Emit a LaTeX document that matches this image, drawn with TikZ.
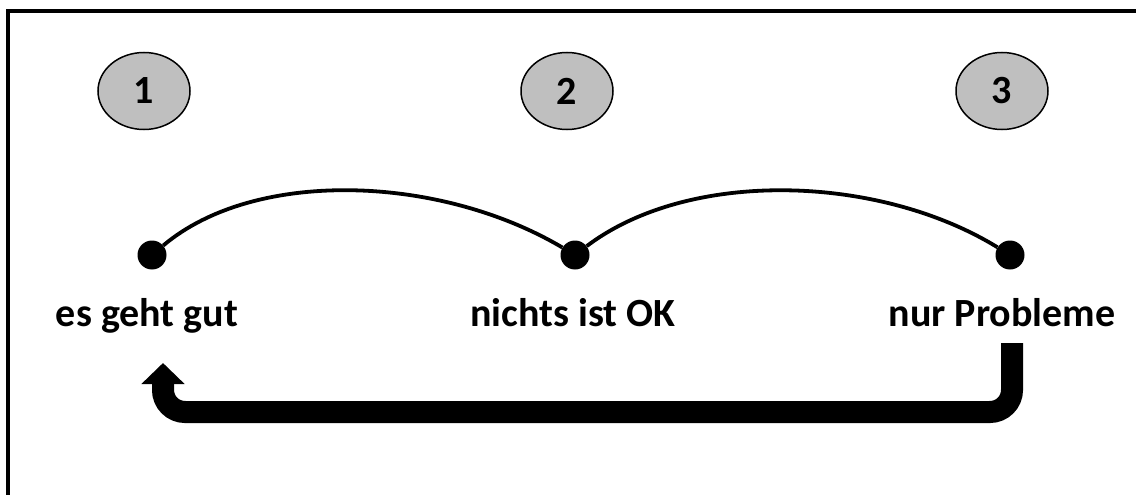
\documentclass[tikz,border=0pt]{standalone}
\usepackage{fontspec}
\setmainfont{Carlito}
\usetikzlibrary{arrows.meta}
\tikzset{
  numoval/.style={ellipse, draw=black, line width=1.5pt, fill=black!25, minimum width=92pt, minimum height=77pt, inner sep=0pt, font=\fontsize{40}{42}\selectfont\bfseries},
  dot/.style={circle, fill=black, minimum size=29pt, inner sep=0pt},
  lbl/.style={anchor=base, inner sep=0pt, font=\fontsize{40}{42}\selectfont\bfseries},
  arc/.style={line width=3.8pt},
  back/.style={line width=22pt, rounded corners=22pt, -{Triangle[width=42pt,length=21pt]}},
  frame/.style={line width=3.6pt}
}
\usetikzlibrary{shapes.geometric}
\begin{document}
\begin{tikzpicture}[x=1pt,y=-1pt]
\useasboundingbox (0,0) rectangle (1136,495);
\draw[frame] (8,497) -- (8,11) -- (1138,11);
\node[numoval] (n1) at (144,91) {1};
\node[numoval] (n2) at (567,91) {2};
\node[numoval] (n3) at (1002,91) {3};
\node[dot] (d1) at (152,255) {};
\node[dot] (d2) at (575,255) {};
\node[dot] (d3) at (1010,255) {};
\draw[arc] (d1) .. controls (255,168) and (440,175) .. (d2);
\draw[arc] (d2) .. controls (690,168) and (880,175) .. (d3);
\node[lbl] (l1) at (147,326) {es geht gut};
\node[lbl] (l2) at (573,326) {nichts ist OK};
\node[lbl] (l3) at (1002,326) {nur Probleme};
\coordinate (s) at (1012,343);
\coordinate (e) at (163,363);
\draw[back] (s) -- (1012,412) -- (163,412) -- (e);
\end{tikzpicture}
\end{document}
